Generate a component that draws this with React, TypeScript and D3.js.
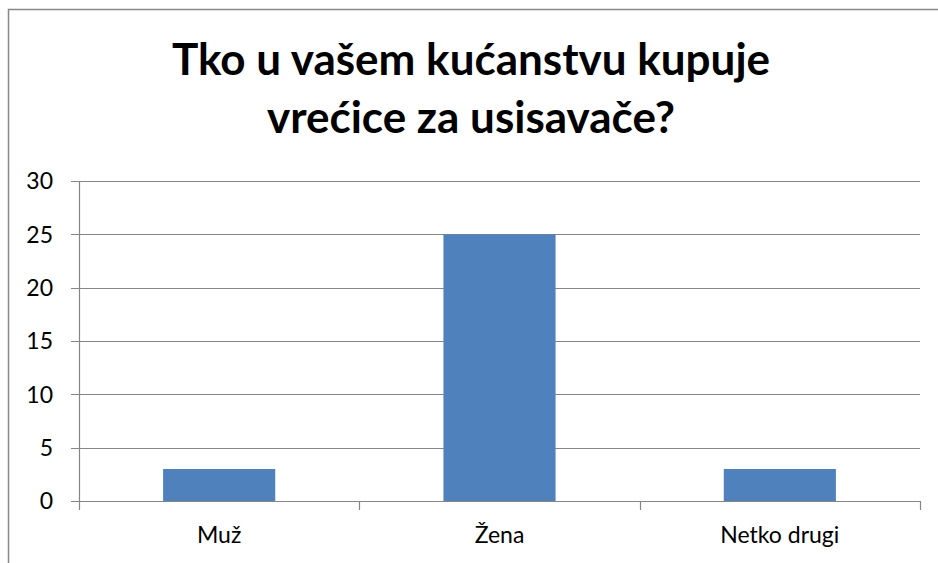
import React from "react";
import * as d3 from "d3";

const categories: string[] = ["Muž", "Žena", "Netko drugi"];
const values: number[] = [3, 25, 3];
const yTicks: number[] = [0, 5, 10, 15, 20, 25, 30];
const titleLines: string[] = ["Tko u vašem kućanstvu kupuje", "vrećice za usisavače?"];

const W = 938;
const H = 563;
const left = 79;
const right = 920;
const top = 181;
const bottom = 501;
const font = "Lato, 'Open Sans', sans-serif";
const grid = "#868686";

export default function App() {
  const y = d3.scaleLinear().domain([0, 30]).range([bottom, top]);
  const x = d3
    .scaleBand<string>()
    .domain(categories)
    .range([left, right])
    .paddingInner(0.6)
    .paddingOuter(0.3);
  const step = x.step();
  const catTicks = d3.range(categories.length + 1).map((i) => left + i * step);

  return (
    <svg
      width={W}
      height={H}
      style={{ position: "absolute", left: 0, top: 0, background: "#fff" }}
    >
      <rect x={8.5} y={9.5} width={1000} height={1000} fill="#fff" stroke="#878787" strokeWidth={1.5} />
      <g fontFamily={font} fontWeight={700} fontSize={44} textAnchor="middle" fill="#000">
        {titleLines.map((t, i) => (
          <text key={i} x={471} y={75 + i * 58}>
            {t}
          </text>
        ))}
      </g>
      {yTicks.map((t) => (
        <g key={t}>
          <line
            x1={left - 8}
            x2={right}
            y1={Math.round(y(t)) + 0.5}
            y2={Math.round(y(t)) + 0.5}
            stroke={grid}
            strokeWidth={1.2}
          />
          <text
            x={53}
            y={y(t)}
            dy="0.36em"
            textAnchor="end"
            fontFamily={font}
            fontSize={23}
            fill="#000"
          >
            {t}
          </text>
        </g>
      ))}
      {categories.map((c, i) => (
        <rect
          key={c}
          x={x(c)}
          y={y(values[i])}
          width={x.bandwidth()}
          height={y(0) - y(values[i])}
          fill="#4F81BD"
        />
      ))}
      <line x1={left + 0.5} x2={left + 0.5} y1={top} y2={bottom} stroke={grid} strokeWidth={1.2} />
      {catTicks.map((t, i) => (
        <line
          key={i}
          x1={Math.round(t) + 0.5}
          x2={Math.round(t) + 0.5}
          y1={bottom}
          y2={bottom + 9}
          stroke={grid}
          strokeWidth={1.2}
        />
      ))}
      {categories.map((c) => (
        <text
          key={c}
          x={(x(c) as number) + x.bandwidth() / 2}
          y={543}
          textAnchor="middle"
          fontFamily={font}
          fontSize={23}
          fill="#000"
        >
          {c}
        </text>
      ))}
    </svg>
  );
}
